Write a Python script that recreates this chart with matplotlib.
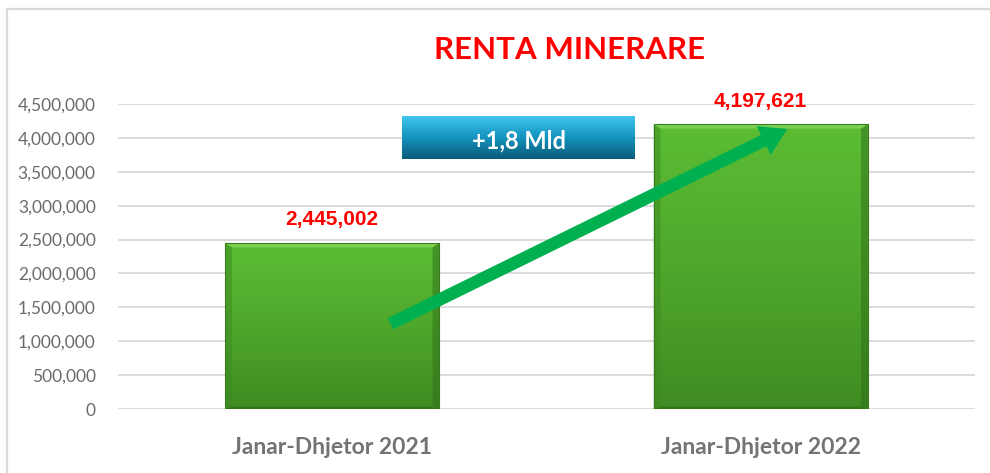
# Renta minerare: Janar-Dhjetor 2021 vs 2022

import numpy as np
import matplotlib.pyplot as plt
from matplotlib.patches import Rectangle, Polygon
from matplotlib.colors import LinearSegmentedColormap

categories = ["Janar-Dhjetor 2021", "Janar-Dhjetor 2022"]
values = [2445002, 4197621]
value_labels = ["2,445,002", "4,197,621"]
yticks = [0, 500000, 1000000, 1500000, 2000000, 2500000, 3000000, 3500000, 4000000, 4500000]
title = "RENTA MINERARE"
diff_label = "+1,8 Mld"

fig = plt.figure(figsize=(9.9, 4.73), dpi=100)
ax = fig.add_axes([118/990, 64/473, 857/990, 305/473])

# outer chart border
fig.patches.append(Rectangle((7/990, -0.1), 1.1, (473-9)/473 + 0.1, transform=fig.transFigure,
                             fill=False, edgecolor="#d9d9d9", linewidth=1.6))

x = np.arange(len(categories))
bars = ax.bar(x, values, width=0.5, color="none", zorder=2)

green = LinearSegmentedColormap.from_list("g", ["#3f8c22", "#4fa72c", "#5bbd34"])
grad = np.linspace(0, 1, 256).reshape(-1, 1)
for b in bars:
    x0, w, h = b.get_x(), b.get_width(), b.get_height()
    ax.imshow(grad, cmap=green, origin="lower", aspect="auto",
              extent=(x0, x0 + w, 0, h), zorder=2)
    # bevel edges
    dx, dy = 0.016, 0.06e6
    ax.add_patch(Polygon([(x0, h), (x0 + w, h), (x0 + w - dx, h - dy), (x0 + dx, h - dy)],
                         color="#86d85f", alpha=0.75, zorder=3, lw=0))
    ax.add_patch(Polygon([(x0, 0), (x0 + w, 0), (x0 + w - dx, dy * 0.6), (x0 + dx, dy * 0.6)],
                         color="#2f6e18", alpha=0.7, zorder=3, lw=0))
    ax.add_patch(Polygon([(x0, 0), (x0, h), (x0 + dx, h - dy), (x0 + dx, dy * 0.6)],
                         color="#3c8a20", alpha=0.5, zorder=3, lw=0))
    ax.add_patch(Polygon([(x0 + w, 0), (x0 + w, h), (x0 + w - dx, h - dy), (x0 + w - dx, dy * 0.6)],
                         color="#2f6e18", alpha=0.5, zorder=3, lw=0))
    ax.add_patch(Rectangle((x0, 0), w, h, fill=False, edgecolor="#3a7a20", lw=0.8, zorder=3))

for xi, v, lab in zip(x, values, value_labels):
    ax.annotate(lab, (xi, v), xytext=(0, 10), textcoords="offset points",
                ha="center", va="bottom", color="#ff0000", fontsize=15,
                fontweight="bold", family="Liberation Sans")

# difference box
blue = LinearSegmentedColormap.from_list("b", ["#0b5b78", "#1393bd", "#41c6f0"])
ax.imshow(grad, cmap=blue, origin="lower", aspect="auto",
          extent=(0.163, 0.706, 3.69e6, 4.32e6), zorder=4)
ax.text(0.435, 3.96e6, diff_label, ha="center", va="center", color="white",
        fontsize=17, fontweight="bold", family="Lato", zorder=5)

# growth arrow
ax.annotate("", xy=(1.068, 4.15e6), xytext=(0.13, 1.24e6),
            arrowprops=dict(arrowstyle="simple,head_length=0.95,head_width=1.15,tail_width=0.45",
                            color="#00b050", mutation_scale=20, lw=0), zorder=6)

ax.set_xlim(-0.5, 1.5)
ax.set_ylim(0, 4500000)
ax.set_yticks(yticks)
ax.set_yticklabels([f"{t:,}" for t in yticks], color="#6b6b6b", fontsize=12.5, family="Lato")
ax.set_xticks(x)
ax.set_xticklabels(categories, color="#737373", fontsize=16.5, fontweight="bold", family="Lato")
ax.tick_params(axis="y", length=0, pad=16)
ax.tick_params(axis="x", length=0, pad=20)
ax.grid(axis="y", color="#d9d9d9", linewidth=1.3, zorder=0)
ax.set_axisbelow(True)
for s in ax.spines.values():
    s.set_visible(False)

fig.text(570/990, 1 - 50/473, title, ha="center", va="center", color="#ff0000",
         fontsize=22.5, fontweight="bold", family="Lato")

fig.savefig("out.png", dpi=100)
